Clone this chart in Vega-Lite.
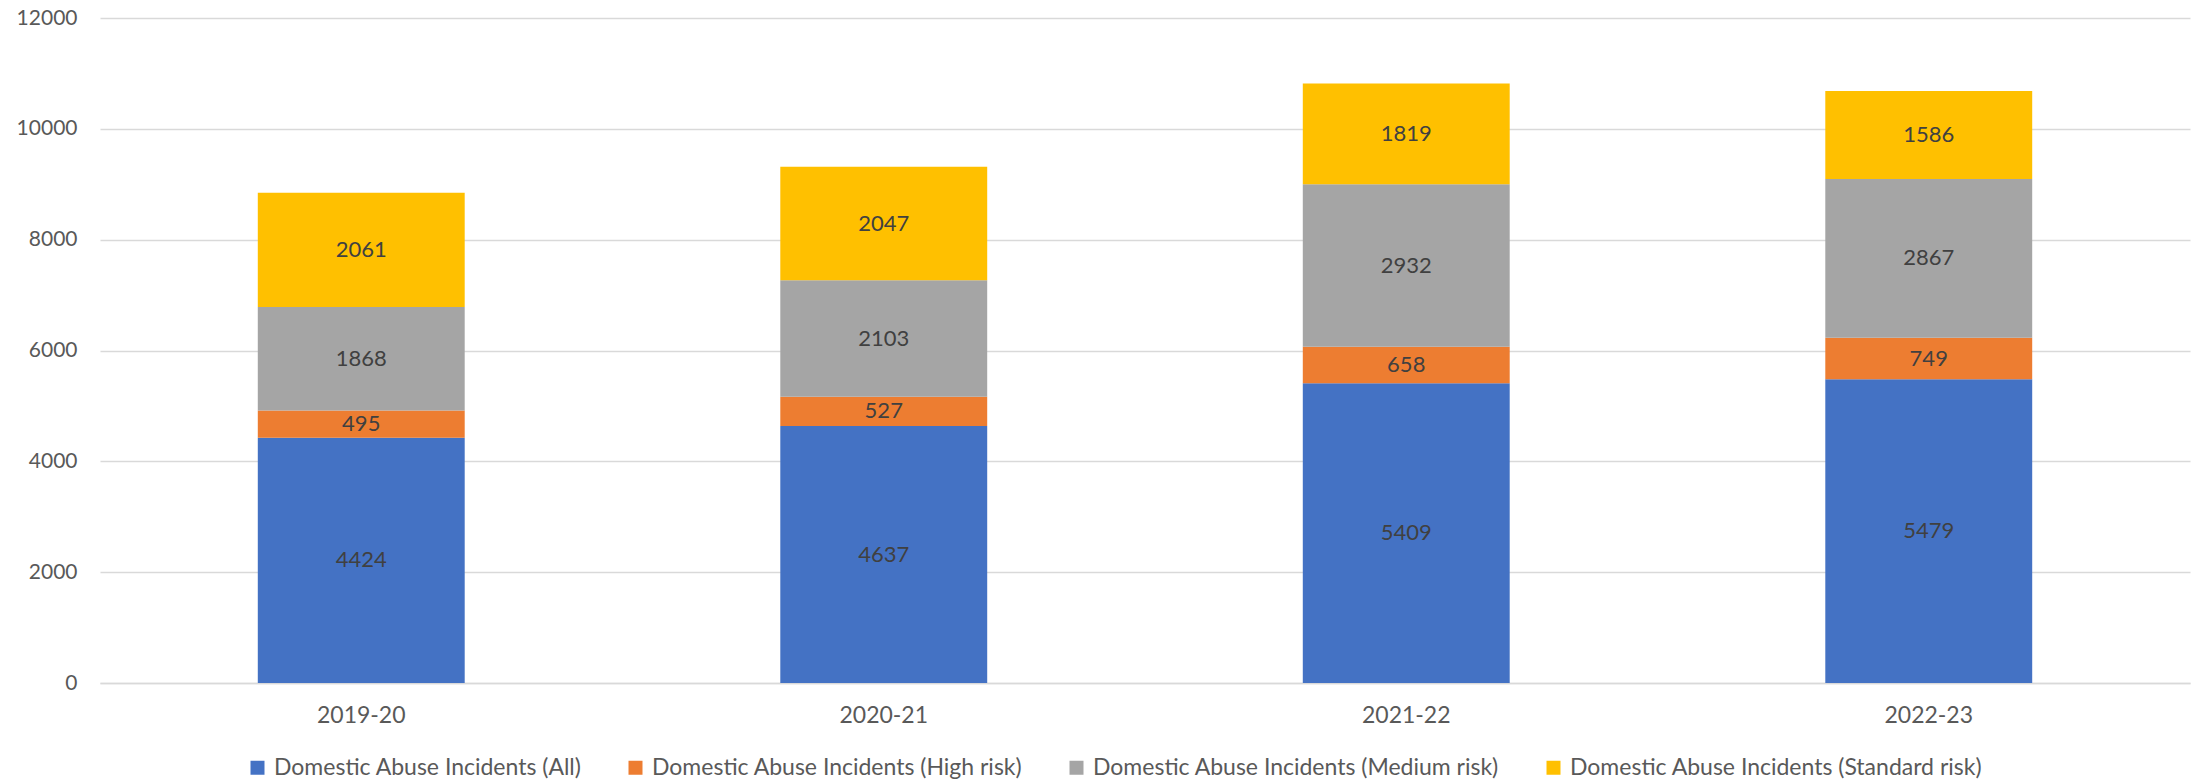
{
  "$schema": "https://vega.github.io/schema/vega-lite/v6.json",
  "width": 2090,
  "height": 665,
  "autosize": {"type": "none"},
  "padding": {"left": 100, "top": 18, "right": 1, "bottom": 98},
  "background": "white",
  "config": {
    "view": {"stroke": null},
    "font": "Lato",
    "axis": {"labelFont": "Lato", "labelFontSize": 21, "labelColor": "#595959", "ticks": false, "title": null}
  },
  "data": {
    "values": [
      {"year": "2019-20", "series": "Domestic Abuse Incidents (All)", "value": 4424},
      {"year": "2019-20", "series": "Domestic Abuse Incidents (High risk)", "value": 495},
      {"year": "2019-20", "series": "Domestic Abuse Incidents (Medium risk)", "value": 1868},
      {"year": "2019-20", "series": "Domestic Abuse Incidents (Standard risk)", "value": 2061},
      {"year": "2020-21", "series": "Domestic Abuse Incidents (All)", "value": 4637},
      {"year": "2020-21", "series": "Domestic Abuse Incidents (High risk)", "value": 527},
      {"year": "2020-21", "series": "Domestic Abuse Incidents (Medium risk)", "value": 2103},
      {"year": "2020-21", "series": "Domestic Abuse Incidents (Standard risk)", "value": 2047},
      {"year": "2021-22", "series": "Domestic Abuse Incidents (All)", "value": 5409},
      {"year": "2021-22", "series": "Domestic Abuse Incidents (High risk)", "value": 658},
      {"year": "2021-22", "series": "Domestic Abuse Incidents (Medium risk)", "value": 2932},
      {"year": "2021-22", "series": "Domestic Abuse Incidents (Standard risk)", "value": 1819},
      {"year": "2022-23", "series": "Domestic Abuse Incidents (All)", "value": 5479},
      {"year": "2022-23", "series": "Domestic Abuse Incidents (High risk)", "value": 749},
      {"year": "2022-23", "series": "Domestic Abuse Incidents (Medium risk)", "value": 2867},
      {"year": "2022-23", "series": "Domestic Abuse Incidents (Standard risk)", "value": 1586}
    ]
  },
  "transform": [
    {"stack": "value", "groupby": ["year"], "sort": [{"field": "series", "order": "ascending"}], "as": ["v0", "v1"]},
    {"calculate": "(datum.v0 + datum.v1) / 2", "as": "mid"}
  ],
  "encoding": {
    "x": {
      "field": "year", "type": "nominal",
      "scale": {"paddingInner": 0.604, "paddingOuter": 0.302},
      "axis": {"labelAngle": 0, "labelPadding": 21, "labelFontSize": 23, "domainColor": "#d9d9d9", "domainWidth": 1.5, "grid": false}
    }
  },
  "layer": [
    {
      "mark": {"type": "bar"},
      "encoding": {
        "y": {
          "field": "v0", "type": "quantitative",
          "scale": {"domain": [0, 12000], "nice": false},
          "axis": {"values": [0, 2000, 4000, 6000, 8000, 10000, 12000], "format": "d", "domain": false, "gridColor": "#d9d9d9", "gridWidth": 1.5, "labelPadding": 23}
        },
        "y2": {"field": "v1"},
        "color": {
          "field": "series", "type": "nominal",
          "scale": {"range": ["#4472C4", "#ED7D31", "#A5A5A5", "#FFC000"]},
          "legend": {
            "orient": "none", "direction": "horizontal", "legendX": 146, "legendY": 738,
            "title": null, "symbolType": "square", "symbolSize": 196, "symbolStrokeWidth": 0,
            "labelFont": "Lato", "labelFontSize": 23, "labelColor": "#595959", "labelOffset": 5, "labelLimit": 0, "columnPadding": 42
          }
        }
      }
    },
    {
      "mark": {"type": "text", "fontSize": 22, "color": "#404040", "baseline": "middle", "font": "Lato"},
      "encoding": {
        "y": {"field": "mid", "type": "quantitative"},
        "text": {"field": "value", "type": "quantitative"}
      }
    }
  ]
}
